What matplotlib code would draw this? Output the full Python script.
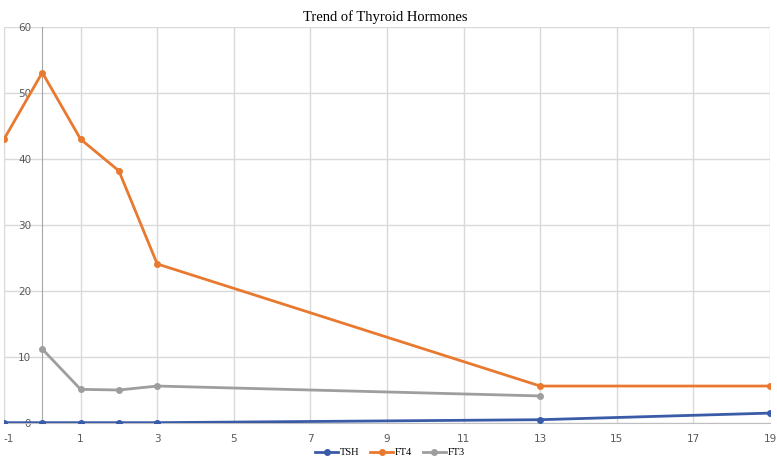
import matplotlib
matplotlib.use("Agg")
from matplotlib import pyplot as plt

plt.rcParams['axes.unicode_minus'] = False

# data
x_tsh = [-1, 0, 1, 2, 3, 13, 19]
tsh = [0.05, 0.05, 0.05, 0.05, 0.05, 0.5, 1.5]
x_ft4 = [-1, 0, 1, 2, 3, 13, 19]
ft4 = [43.0, 53.1, 43.0, 38.2, 24.1, 5.6, 5.6]
x_ft3 = [0, 1, 2, 3, 13]
ft3 = [11.2, 5.1, 5.0, 5.6, 4.1]

x_ticks = list(range(-1, 20, 2))
y_ticks = [0, 10, 20, 30, 40, 50, 60]

fig = plt.figure(figsize=(7.77, 4.61), dpi=100)
ax = fig.add_axes([4 / 777, 1 - 423 / 461, 766 / 777, 396 / 461])

ax.plot(x_tsh, tsh, color='#3A5BA8', lw=2, marker='o', ms=4, label='TSH', zorder=5)
ax.plot(x_ft4, ft4, color='#E8792F', lw=2, marker='o', ms=4, label='FT4', zorder=4)
ax.plot(x_ft3, ft3, color='#9E9E9E', lw=2, marker='o', ms=4, label='FT3', zorder=3)

ax.set_xlim(-1, 19)
ax.set_ylim(0, 60)
ax.set_xticks(x_ticks)
ax.set_yticks(y_ticks)
ax.grid(True, color='#D9D9D9', lw=1)
ax.set_axisbelow(True)

for s in ['top', 'right']:
    ax.spines[s].set_visible(False)
ax.spines['left'].set_position(('data', 0))
ax.spines['left'].set_color('#A6A6A6')
ax.spines['bottom'].set_color('#BFBFBF')
ax.tick_params(length=0, labelsize=7.5, colors='#595959')
ax.tick_params(axis='y', pad=8)
ax.tick_params(axis='x', pad=8)
ax.get_xticklabels()[0].set_horizontalalignment('left')

fig.text(0.496, 0.978, 'Trend of Thyroid Hormones', ha='center', va='top',
         family='Liberation Serif', fontsize=10.5)

fig.legend(loc='lower center', bbox_to_anchor=(0.502, -0.012), ncol=3, frameon=False,
           prop={'family': 'Liberation Serif', 'size': 7.5}, handlelength=2.2,
           handletextpad=0.2, columnspacing=1.0)

fig.savefig('out.png', dpi=100)
